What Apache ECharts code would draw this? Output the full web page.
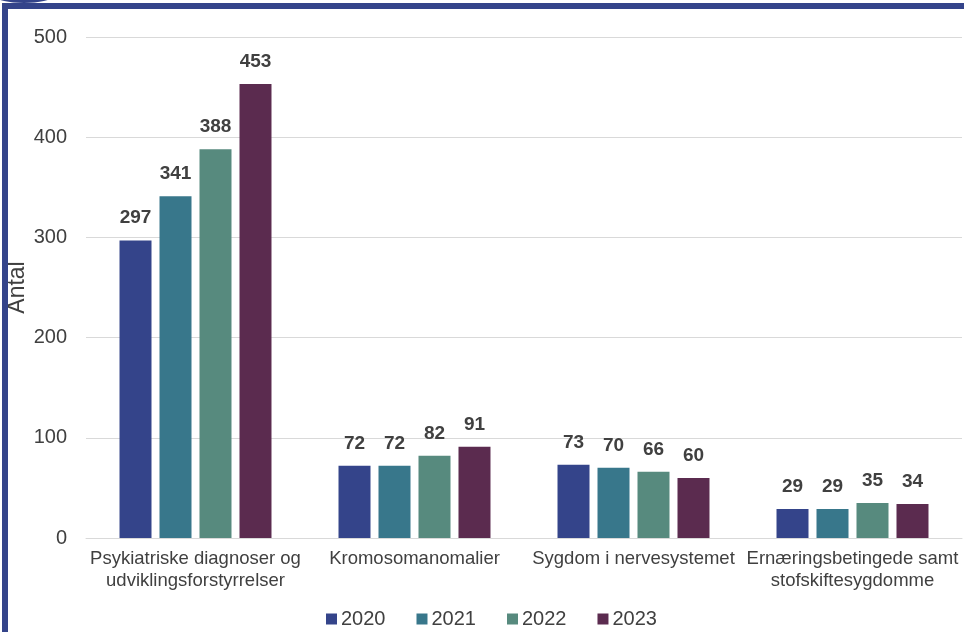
<!DOCTYPE html>
<html>
<head>
<meta charset="utf-8">
<script src="https://cdn.jsdelivr.net/npm/echarts@6/dist/echarts.min.js"></script>
<style>
  html, body { margin: 0; padding: 0; background: #fff; }
  #frame { position: absolute; left: 0; top: 0; width: 964px; height: 632px; overflow: hidden; }
  #topbar { position: absolute; left: 2px; top: 3px; width: 962px; height: 6px; background: #34448a; }
  #leftbar { position: absolute; left: 2px; top: 3px; width: 6px; height: 629px; background: #34448a; }
  #tab { position: absolute; left: -4px; top: -10px; width: 56px; height: 13px; border-radius: 50%; background: #34448a; }
  #chart { position: absolute; left: 0; top: 0; width: 964px; height: 632px; }
</style>
</head>
<body>
<div id="frame">
  <div id="chart"></div>
  <div id="tab"></div>
  <div id="topbar"></div>
  <div id="leftbar"></div>
</div>
<script>
// Categories (diagnosis groups) and yearly counts
const categories = [
  'Psykiatriske diagnoser og\nudviklingsforstyrrelser',
  'Kromosomanomalier',
  'Sygdom i nervesystemet',
  'Ernæringsbetingede samt\nstofskiftesygdomme'
];
const years = ['2020', '2021', '2022', '2023'];
const values2020 = [297, 72, 73, 29];
const values2021 = [341, 72, 70, 29];
const values2022 = [388, 82, 66, 35];
const values2023 = [453, 91, 60, 34];
const yTicks = [0, 100, 200, 300, 400, 500];

const colors = ['#34448a', '#38778b', '#578a7e', '#5b2b4f'];
const seriesValues = [values2020, values2021, values2022, values2023];
const font = 'Liberation Sans, Arial, sans-serif';

const chart = echarts.init(document.getElementById('chart'));
chart.setOption({
  animation: false,
  color: colors,
  grid: { left: 86, right: 2, top: 37, bottom: 94, containLabel: false, outerBoundsMode: 'none' },
  legend: {
    data: years,
    bottom: 3,
    left: 326,
    padding: 0,
    itemWidth: 11,
    itemHeight: 11,
    itemGap: 31,
    icon: 'rect',
    textStyle: { fontFamily: font, fontSize: 20, color: '#404040', padding: [0, 0, 0, -1] }
  },
  xAxis: {
    type: 'category',
    data: categories,
    axisTick: { show: false },
    axisLine: { lineStyle: { color: '#d9d9d9', width: 1 } },
    axisLabel: {
      interval: 0,
      fontFamily: font,
      fontSize: 18.5,
      color: '#404040',
      lineHeight: 22,
      margin: 10
    }
  },
  yAxis: {
    type: 'value',
    min: yTicks[0],
    max: yTicks[yTicks.length - 1],
    interval: 100,
    name: 'Antal',
    nameLocation: 'middle',
    nameGap: 57,
    nameMoveOverlap: false,
    nameTextStyle: { fontFamily: font, fontSize: 23, color: '#404040' },
    axisLine: { show: false },
    axisTick: { show: false },
    splitLine: { lineStyle: { color: '#d9d9d9', width: 1 } },
    axisLabel: {
      fontFamily: font,
      fontSize: 20,
      color: '#404040',
      margin: 19
    }
  },
  series: years.map((y, i) => ({
    name: y,
    type: 'bar',
    data: seriesValues[i],
    barGap: '25%',
    barCategoryGap: '30.6%',
    label: {
      show: true,
      position: 'top',
      distance: 13,
      fontFamily: font,
      fontWeight: 'bold',
      fontSize: 19,
      color: '#404040'
    }
  }))
});
</script>
</body>
</html>
